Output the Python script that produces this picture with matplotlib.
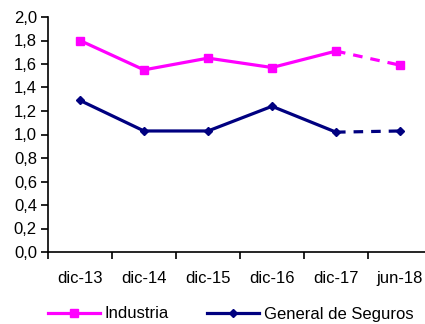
import matplotlib
matplotlib.use("Agg")
import matplotlib.pyplot as plt
from matplotlib.ticker import FixedLocator, FuncFormatter, NullFormatter

plt.rcParams['font.family'] = ['Liberation Sans', 'DejaVu Sans']

periods = ["dic-13", "dic-14", "dic-15", "dic-16", "dic-17", "jun-18"]
industria = [1.80, 1.55, 1.65, 1.57, 1.71, 1.59]
general = [1.29, 1.03, 1.03, 1.24, 1.02, 1.03]

MAGENTA = "#FF00FF"
NAVY = "#000080"

fig = plt.figure(figsize=(4.25, 3.24), dpi=100)
ax = fig.add_axes([48 / 425, 72 / 324, 384 / 425, 235 / 324])

x = [i + 0.5 for i in range(len(periods))]

# solid up to dic-17, dashed for the last (partial-year) step
ax.plot(x[:5], industria[:5], color=MAGENTA, lw=2.3, marker="s", ms=6,
        label="Industria", clip_on=False)
ax.plot(x[4:], industria[4:], color=MAGENTA, lw=2.3, ls=(0, (3, 2.5)),
        marker="s", ms=6, markevery=[1], clip_on=False)
ax.plot(x[:5], general[:5], color=NAVY, lw=2.3, marker="D", ms=4.5,
        label="General de Seguros", clip_on=False)
ax.plot(x[4:], general[4:], color=NAVY, lw=2.3, ls=(0, (3, 2.5)),
        marker="D", ms=4.5, markevery=[1], clip_on=False)

ax.set_xlim(0, len(periods))
ax.set_ylim(0, 2.0)
ax.set_yticks([i * 0.2 for i in range(11)])
ax.yaxis.set_major_formatter(FuncFormatter(lambda v, p: f"{v:.1f}".replace(".", ",")))

ax.xaxis.set_major_locator(FixedLocator(x))
ax.set_xticklabels(periods)
ax.xaxis.set_minor_locator(FixedLocator(range(len(periods) + 1)))
ax.xaxis.set_minor_formatter(NullFormatter())
ax.tick_params(axis="x", which="major", length=0, pad=14, labelsize=12)
ax.tick_params(axis="x", which="minor", length=5, width=1.2, direction="out")
ax.tick_params(axis="y", length=5, width=1.2, direction="out", labelsize=12, pad=3)

for s in ("top", "right"):
    ax.spines[s].set_visible(False)
for s in ("left", "bottom"):
    ax.spines[s].set_linewidth(1.2)

fig.legend(*ax.get_legend_handles_labels(), loc="center left",
           bbox_to_anchor=(0.097, 10 / 324), ncol=2, frameon=False,
           fontsize=12, handlelength=3.1, handletextpad=0.3, columnspacing=2.3,
           borderaxespad=0)

fig.savefig("out.png", dpi=100)
